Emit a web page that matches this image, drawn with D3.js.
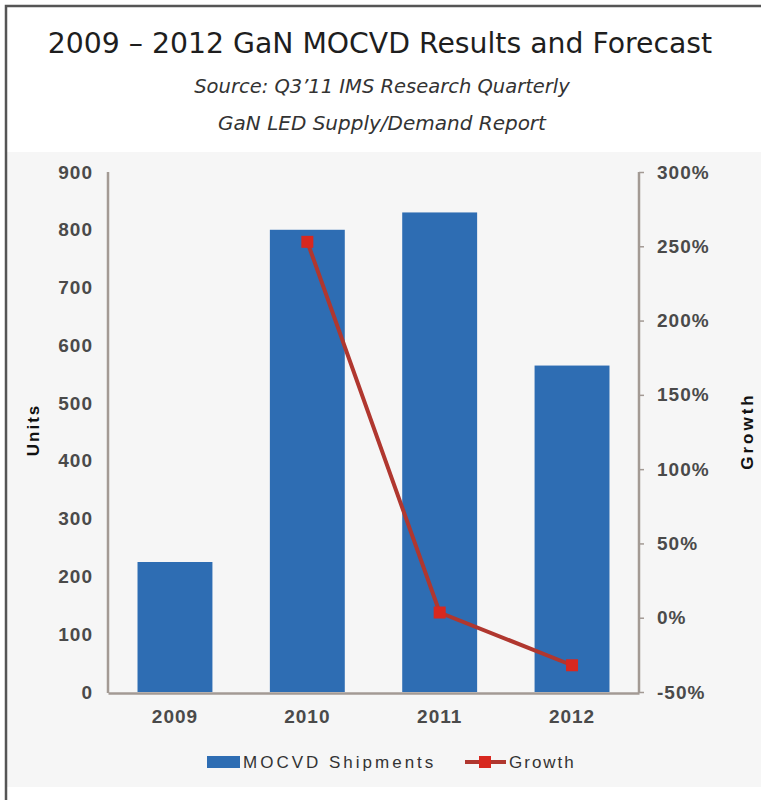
<!DOCTYPE html>
<html>
<head>
<meta charset="utf-8">
<script src="https://cdn.jsdelivr.net/npm/d3@7"></script>
<style>
  body { margin: 0; background: #fff; }
  #graph svg { display: block; }
</style>
</head>
<body>
<div id="graph"></div>
<script>
// chart data
const years = ["2009", "2010", "2011", "2012"];
const shipments = [225, 800, 830, 565];
const growth = [null, 253, 3.5, -32];
const unitTicks = [0, 100, 200, 300, 400, 500, 600, 700, 800, 900];
const growthTicks = [-50, 0, 50, 100, 150, 200, 250, 300];

const W = 761, H = 800;
const plot = { left: 108, right: 639, top: 172, bottom: 692 };

//setup and return svg
function setupSVG() {
  return d3
    .select("#graph")
    .append("svg")
    .attr("width", W)
    .attr("height", H);
}

const svg = setupSVG();

// frame and the grey panel behind the chart
svg.append("rect").attr("x", 0).attr("y", 0).attr("width", W).attr("height", H).attr("fill", "#fff");
svg.append("rect").attr("x", 7).attr("y", 152).attr("width", W - 7).attr("height", 635).attr("fill", "#f6f6f6");
svg.append("path")
  .attr("d", "M6,800 V6 H761")
  .attr("fill", "none")
  .attr("stroke", "#555")
  .attr("stroke-width", 2.5);

// titles
const titleFont = "'DejaVu Sans', sans-serif";
svg.append("text")
  .attr("x", 380).attr("y", 53)
  .attr("text-anchor", "middle")
  .style("font-family", titleFont)
  .style("font-size", "28.3px")
  .style("fill", "#1e1e1e")
  .text("2009 \u2013 2012 GaN MOCVD Results and Forecast");
svg.append("text")
  .attr("x", 382).attr("y", 93)
  .attr("text-anchor", "middle")
  .style("font-family", titleFont)
  .style("font-size", "19.5px")
  .style("font-style", "italic")
  .style("fill", "#333")
  .text("Source: Q3\u201911 IMS Research Quarterly");
svg.append("text")
  .attr("x", 382).attr("y", 130)
  .attr("text-anchor", "middle")
  .style("font-family", titleFont)
  .style("font-size", "20px")
  .style("font-style", "italic")
  .style("fill", "#333")
  .text("GaN LED Supply/Demand Report");

// scales
const x = d3.scaleBand()
  .domain(years)
  .range([plot.left, plot.right])
  .paddingInner(0.434)
  .paddingOuter(0.223);
const y = d3.scaleLinear().domain([0, 900]).range([plot.bottom, plot.top]);
const y2 = d3.scaleLinear().domain([-50, 300]).range([plot.bottom, plot.top]);

const tickFont = "'Liberation Sans', Arial, sans-serif";

// bars
svg.append("g")
  .selectAll("rect")
  .data(years)
  .enter()
  .append("rect")
  .attr("x", (d) => x(d))
  .attr("y", (d, i) => y(shipments[i]))
  .attr("width", x.bandwidth())
  .attr("height", (d, i) => y(0) - y(shipments[i]))
  .attr("fill", "#2e6db3");

// axes
const axisColor = "#a39a94";
const leftAxis = svg.append("g")
  .attr("transform", "translate(" + plot.left + ",0)")
  .call(d3.axisLeft(y).tickValues(unitTicks).tickSize(0).tickPadding(15));
const rightAxis = svg.append("g")
  .attr("transform", "translate(" + plot.right + ",0)")
  .call(d3.axisRight(y2).tickValues(growthTicks).tickSize(5).tickPadding(13)
    .tickFormat((d) => d + "%"));
const bottomAxis = svg.append("g")
  .attr("transform", "translate(0," + (plot.bottom + 1) + ")")
  .call(d3.axisBottom(x).tickSize(0).tickPadding(17).tickSizeOuter(0));

[leftAxis, rightAxis, bottomAxis].forEach((a) => {
  a.select(".domain").attr("stroke", axisColor).attr("stroke-width", 2.5);
  a.selectAll(".tick line").attr("stroke", axisColor).attr("stroke-width", 1.5);
  a.selectAll("text")
    .style("font-family", tickFont)
    .style("font-size", "19px")
    .style("font-weight", "bold")
    .style("letter-spacing", "1px")
    .style("fill", "#4a4a4a");
});
leftAxis.select(".domain").attr("d", "M0," + plot.top + "V" + (plot.bottom + 1));
rightAxis.select(".domain").attr("d", "M0," + plot.top + "V" + (plot.bottom + 1));

// axis titles
svg.append("text")
  .attr("transform", "translate(39,430) rotate(-90)")
  .attr("text-anchor", "middle")
  .style("font-family", tickFont)
  .style("font-size", "17px")
  .style("font-weight", "bold")
  .style("letter-spacing", "2px")
  .style("fill", "#111")
  .text("Units");
svg.append("text")
  .attr("transform", "translate(753,431) rotate(-90)")
  .attr("text-anchor", "middle")
  .style("font-family", tickFont)
  .style("font-size", "17px")
  .style("font-weight", "bold")
  .style("letter-spacing", "3px")
  .style("fill", "#111")
  .text("Growth");

// growth line
const pts = years.map((d, i) => ({ year: d, g: growth[i] })).filter((d) => d.g !== null);
const cx = (d) => x(d.year) + x.bandwidth() / 2;
svg.append("path")
  .datum(pts)
  .attr("fill", "none")
  .attr("stroke", "#b0372f")
  .attr("stroke-width", 4)
  .attr("d", d3.line().x(cx).y((d) => y2(d.g)));
svg.append("g")
  .selectAll("rect")
  .data(pts)
  .enter()
  .append("rect")
  .attr("x", (d) => cx(d) - 6)
  .attr("y", (d) => y2(d.g) - 6)
  .attr("width", 12)
  .attr("height", 12)
  .attr("fill", "#d8281f");

// legend
const legend = svg.append("g");
legend.append("rect")
  .attr("x", 207).attr("y", 756).attr("width", 33).attr("height", 12)
  .attr("fill", "#2e6db3");
legend.append("text")
  .attr("x", 243).attr("y", 768)
  .style("font-family", tickFont)
  .style("font-size", "17px")
  .style("letter-spacing", "3px")
  .style("fill", "#333")
  .text("MOCVD Shipments");
legend.append("line")
  .attr("x1", 465).attr("x2", 506).attr("y1", 762).attr("y2", 762)
  .attr("stroke", "#b0372f").attr("stroke-width", 4);
legend.append("rect")
  .attr("x", 479).attr("y", 756).attr("width", 12).attr("height", 12)
  .attr("fill", "#d8281f");
legend.append("text")
  .attr("x", 509).attr("y", 768)
  .style("font-family", tickFont)
  .style("font-size", "17px")
  .style("letter-spacing", "2px")
  .style("fill", "#333")
  .text("Growth");
</script>
</body>
</html>
